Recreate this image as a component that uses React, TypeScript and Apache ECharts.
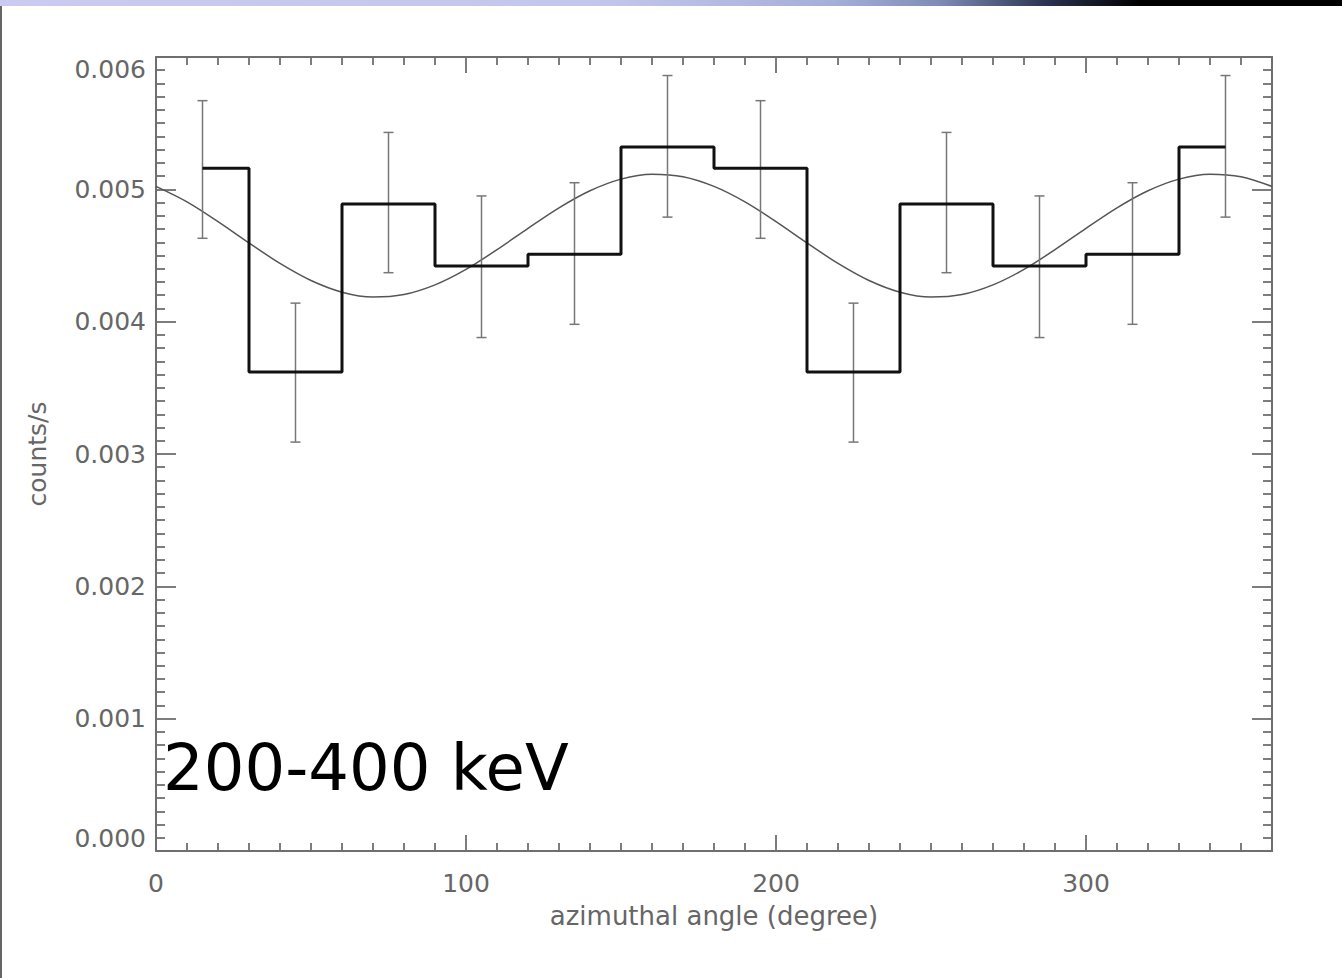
import React, { useEffect, useRef } from "react";
import * as echarts from "echarts";

// Bin centres (degrees)
const angles = [15, 45, 75, 105, 135, 165, 195, 225, 255, 285, 315, 345];
// Histogram counts/s
const counts = [0.00516, 0.00362, 0.00489, 0.00442, 0.00451, 0.00532, 0.00516, 0.00362, 0.00489, 0.00442, 0.00451, 0.00532];
// Error bar lower / upper limits
const errLow = [0.00463, 0.00309, 0.00437, 0.00388, 0.00398, 0.00479, 0.00463, 0.00309, 0.00437, 0.00388, 0.00398, 0.00479];
const errHigh = [0.00567, 0.00414, 0.00543, 0.00495, 0.00505, 0.00586, 0.00567, 0.00414, 0.00543, 0.00495, 0.00505, 0.00586];
// Fitted modulation curve, every 10 degrees
const fitAngles = [0, 10, 20, 30, 40, 50, 60, 70, 80, 90, 100, 110, 120, 130, 140, 150, 160, 170, 180,
  190, 200, 210, 220, 230, 240, 250, 260, 270, 280, 290, 300, 310, 320, 330, 340, 350, 360];
const fitValues = [0.005022, 0.004905, 0.004756, 0.004595, 0.00444, 0.004311, 0.004223, 0.004186, 0.004205,
  0.004278, 0.004395, 0.004544, 0.004705, 0.00486, 0.004989, 0.005077, 0.005114, 0.005095, 0.005022,
  0.004905, 0.004756, 0.004595, 0.00444, 0.004311, 0.004223, 0.004186, 0.004205,
  0.004278, 0.004395, 0.004544, 0.004705, 0.00486, 0.004989, 0.005077, 0.005114, 0.005095, 0.005022];

const energyLabel = "200-400 keV";
const xTitle = "azimuthal angle (degree)";
const yTitle = "counts/s";

export default function App() {
  const ref = useRef<HTMLDivElement>(null);
  useEffect(() => {
    if (!ref.current) return;
    const chart = echarts.init(ref.current, null, { renderer: "svg" });
    const axisColor = "#6f6f6f";
    const labelStyle = { color: "#666", fontFamily: "DejaVu Sans", fontSize: 25 };
    const xCommon = {
      type: "value",
      min: 0,
      max: 360,
      interval: 100,
      axisLine: { show: true, onZero: false, lineStyle: { color: axisColor, width: 2 } },
      axisTick: { show: true, inside: true, length: 16, lineStyle: { color: axisColor, width: 1.8 } },
      minorTick: { show: true, splitNumber: 10, length: 8, lineStyle: { color: axisColor, width: 1.8 } },
      splitLine: { show: false },
    };
    const yCommon = {
      type: "value",
      min: 0,
      max: 0.006,
      interval: 0.001,
      axisLine: { show: true, onZero: false, lineStyle: { color: axisColor, width: 2 } },
      axisTick: { show: true, inside: true, length: 20, lineStyle: { color: axisColor, width: 1.8 } },
      minorTick: { show: true, splitNumber: 10, length: 9, lineStyle: { color: axisColor, width: 1.8 } },
      splitLine: { show: false },
    };
    chart.setOption({
      animation: false,
      backgroundColor: "#ffffff",
      grid: { left: 156, right: 70, top: 57, bottom: 127, containLabel: false },
      xAxis: [
        {
          ...xCommon,
          position: "bottom",
          name: xTitle,
          nameLocation: "middle",
          nameGap: 52,
          nameTextStyle: { color: "#666", fontFamily: "DejaVu Sans", fontSize: 26 },
          axisLabel: { ...labelStyle, margin: 20, showMaxLabel: false },
        },
        { ...xCommon, position: "top", axisLabel: { show: false } },
      ],
      yAxis: [
        {
          ...yCommon,
          position: "left",
          name: yTitle,
          nameLocation: "middle",
          nameGap: 106,
          nameRotate: 90,
          nameTextStyle: { color: "#666", fontFamily: "DejaVu Sans", fontSize: 25 },
          axisLabel: {
            ...labelStyle,
            margin: 10,
            formatter: (v: number) => v.toFixed(3),
            verticalAlignMaxLabel: "top",
            verticalAlignMinLabel: "bottom",
          },
        },
        { ...yCommon, position: "right", axisLabel: { show: false } },
      ],
      series: [
        {
          type: "line",
          data: fitAngles.map((a, i) => [a, fitValues[i]]),
          smooth: 0.3,
          symbol: "none",
          lineStyle: { color: "#555", width: 1.5 },
          z: 2,
        },
        {
          type: "custom",
          data: angles.map((a, i) => [a, errLow[i], errHigh[i]]),
          renderItem: (params: any, api: any) => {
            const lo = api.coord([api.value(0), api.value(1)]);
            const hi = api.coord([api.value(0), api.value(2)]);
            const cap = 5;
            const style = { stroke: "#777", lineWidth: 1.5 };
            return {
              type: "group",
              children: [
                { type: "line", shape: { x1: lo[0], y1: lo[1], x2: hi[0], y2: hi[1] }, style },
                { type: "line", shape: { x1: lo[0] - cap, y1: lo[1], x2: lo[0] + cap, y2: lo[1] }, style },
                { type: "line", shape: { x1: hi[0] - cap, y1: hi[1], x2: hi[0] + cap, y2: hi[1] }, style },
              ],
            };
          },
          z: 3,
        },
        {
          type: "line",
          step: "middle",
          data: angles.map((a, i) => [a, counts[i]]),
          symbol: "none",
          lineStyle: { color: "#111", width: 3 },
          z: 4,
        },
      ],
      graphic: [
        {
          type: "rect",
          left: 0,
          top: 0,
          shape: { width: 1342, height: 6 },
          style: {
            fill: new echarts.graphic.LinearGradient(0, 0, 1, 0, [
              { offset: 0, color: "#cbcaf0" },
              { offset: 0.45, color: "#c3c6ec" },
              { offset: 0.62, color: "#a5afda" },
              { offset: 0.7, color: "#7f8cb8" },
              { offset: 0.78, color: "#2a3350" },
              { offset: 0.85, color: "#000000" },
              { offset: 1, color: "#000000" },
            ]),
          },
          z: 10,
        },
        {
          type: "rect",
          left: 0,
          top: 6,
          shape: { width: 2, height: 972 },
          style: { fill: "#666" },
          z: 10,
        },
        {
          type: "text",
          x: 163,
          y: 768,
          style: {
            text: energyLabel,
            fill: "#000",
            fontFamily: "DejaVu Sans",
            fontSize: 64,
            textVerticalAlign: "middle",
          },
          z: 10,
        },
      ],
    });
    return () => chart.dispose();
  }, []);
  return <div ref={ref} style={{ position: "fixed", left: 0, top: 0, width: 1342, height: 978 }} />;
}
